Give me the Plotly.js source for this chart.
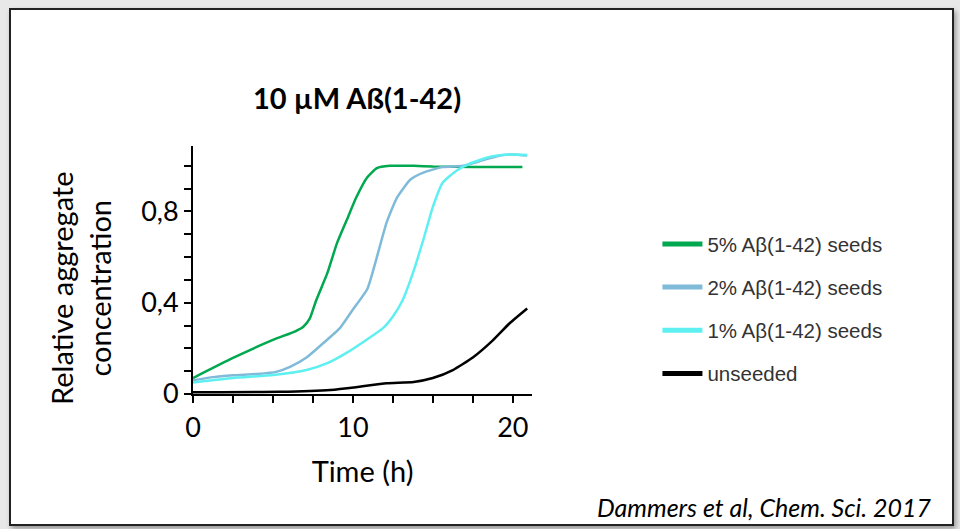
<!DOCTYPE html>
<html>
<head>
<meta charset="utf-8">
<script src="https://cdn.plot.ly/plotly-3.0.1.min.js"></script>
<style>
  html, body { margin: 0; padding: 0; background: #e8e8e8; }
  #frame { position: absolute; left: 9px; top: 8px; width: 941px; height: 514px;
           background: #ffffff; border: 2px solid #222; box-shadow: 2px 3px 5px rgba(0,0,0,0.35); }
  #chart { position: absolute; left: 0; top: 0; width: 960px; height: 529px; }
</style>
</head>
<body>
<div id="frame"></div>
<div id="chart"></div>
<script>
// Time (h)
const seed5_x = [0, 2.5, 5, 6.4, 6.9, 7.3, 7.7, 8.4, 9.0, 9.6, 10.2, 10.9, 11.5, 12.3, 13.8, 15, 17.5, 20.6];
const seed5_y = [0.07, 0.158, 0.237, 0.275, 0.295, 0.33, 0.41, 0.53, 0.66, 0.76, 0.86, 0.95, 0.99, 1.0, 1.0, 0.997, 0.995, 0.995];

const seed2_x = [0, 1.25, 2.5, 4, 5.2, 6.1, 7.1, 8.1, 9.2, 10, 10.9, 11.5, 12.1, 12.75, 13.6, 14.4, 15.6, 16.9, 17.9, 19.2, 20, 20.9];
const seed2_y = [0.06, 0.074, 0.082, 0.088, 0.097, 0.12, 0.16, 0.22, 0.29, 0.37, 0.46, 0.60, 0.75, 0.86, 0.94, 0.97, 0.995, 1.0, 1.02, 1.045, 1.05, 1.045];

const seed1_x = [0, 2.5, 5, 7.1, 8.4, 9.6, 10.9, 11.9, 12.5, 13.1, 13.75, 14.4, 15, 15.6, 16.5, 17.3, 18.6, 19.8, 20.9];
const seed1_y = [0.05, 0.07, 0.083, 0.105, 0.135, 0.18, 0.24, 0.29, 0.34, 0.41, 0.53, 0.675, 0.82, 0.925, 0.98, 1.01, 1.04, 1.05, 1.048];

const unseeded_x = [0, 5.4, 8.6, 10.2, 12.1, 13.8, 15, 16.25, 17.5, 18.75, 19.8, 20.9];
const unseeded_y = [0.008, 0.01, 0.018, 0.03, 0.047, 0.053, 0.07, 0.105, 0.16, 0.235, 0.31, 0.375];

const seriesNames = ["5% A\u03B2(1-42) seeds", "2% A\u03B2(1-42) seeds", "1% A\u03B2(1-42) seeds", "unseeded"];
const seriesColors = ["#00a84f", "#7fbbd9", "#5ef0f0", "#000000"];

const xTicks = [0, 10, 20];
const xTickLabels = ["0", "10", "20"];
const yTicks = [0, 0.4, 0.8];
const yTickLabels = ["0", "0,4", "0,8"];

const xs = [seed5_x, seed2_x, seed1_x, unseeded_x];
const ys = [seed5_y, seed2_y, seed1_y, unseeded_y];

const traces = [];
for (let i = 0; i < 4; i++) {
  traces.push({
    x: xs[i], y: ys[i], type: 'scatter', mode: 'lines',
    line: {color: seriesColors[i], width: 2.5, shape: 'spline', smoothing: 0.5},
    showlegend: false, hoverinfo: 'skip'
  });
}
for (let i = 0; i < 4; i++) {
  traces.push({
    x: [null], y: [null], type: 'scatter', mode: 'lines', name: seriesNames[i],
    legendgroup: 'g' + i,
    line: {color: seriesColors[i], width: 5}
  });
}

const calib = 'Lato, "Open Sans", sans-serif';

const layout = {
  width: 960, height: 529,
  paper_bgcolor: 'rgba(0,0,0,0)', plot_bgcolor: 'rgba(0,0,0,0)',
  margin: {l: 193, r: 428, t: 146, b: 135},
  showlegend: true,
  legend: {
    x: 1.37, y: 0.685, xanchor: 'left', yanchor: 'top',
    traceorder: 'grouped', tracegroupgap: 13.5,
    font: {family: '"Liberation Sans", Arial, sans-serif', size: 20.5, color: '#333'},
    bgcolor: 'rgba(0,0,0,0)', itemwidth: 40
  },
  xaxis: {
    range: [0, 21.2], showgrid: false, zeroline: false,
    showline: true, linecolor: '#000', linewidth: 2,
    ticks: 'outside', ticklen: 7, tickwidth: 2, tickcolor: '#000',
    tickmode: 'array', tickvals: xTicks, ticktext: xTickLabels,
    ticklabelstandoff: 2,
    minor: {dtick: 2.5, tick0: 0, ticks: 'outside', ticklen: 7, tickwidth: 2, tickcolor: '#000'},
    tickfont: {family: calib, size: 27, color: '#000'},
    title: {text: 'Time (h)', font: {family: calib, size: 29, color: '#000'}, standoff: 19}
  },
  yaxis: {
    range: [0, 1.087], showgrid: false, zeroline: false,
    showline: true, linecolor: '#000', linewidth: 2,
    ticks: 'outside', ticklen: 7, tickwidth: 2, tickcolor: '#000',
    tickmode: 'array', tickvals: yTicks, ticktext: yTickLabels,
    minor: {dtick: 0.1, tick0: 0, ticks: 'outside', ticklen: 7, tickwidth: 2, tickcolor: '#000'},
    tickfont: {family: calib, size: 27, color: '#000'}
  },
  annotations: [
    {text: '<b>10 \u00B5M A\u00DF(1-42)</b>', xref: 'paper', yref: 'paper',
     x: (357 - 193) / 339, y: (394 - 98) / 248, xanchor: 'center', yanchor: 'middle', showarrow: false,
     font: {family: calib, size: 29, color: '#000'}},
    {text: 'Relative aggregate<br>concentration', xref: 'paper', yref: 'paper',
     x: (80 - 193) / 339, y: (394 - 288) / 248, xanchor: 'center', yanchor: 'middle',
     textangle: -90, showarrow: false,
     font: {family: calib, size: 29, color: '#000'}},
    {text: '<i>Dammers et al, Chem. Sci. 2017</i>', xref: 'paper', yref: 'paper',
     x: (934 - 193) / 339, y: (394 - 507) / 248, xanchor: 'right', yanchor: 'middle', showarrow: false,
     font: {family: calib, size: 25, color: '#000'}}
  ]
};

Plotly.newPlot('chart', traces, layout, {displayModeBar: false, staticPlot: true});
</script>
</body>
</html>
